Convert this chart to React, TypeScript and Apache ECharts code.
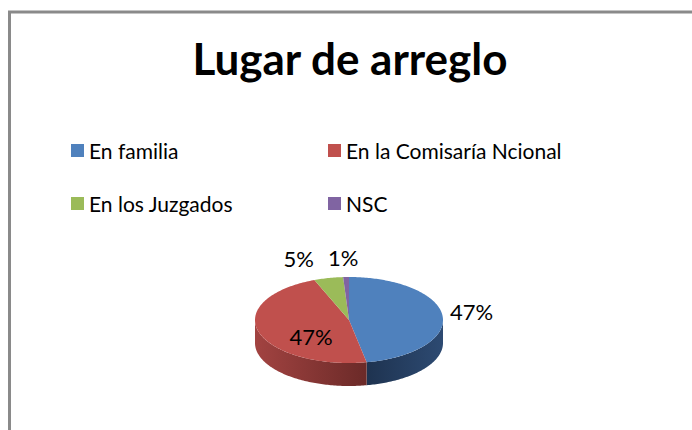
import React, { useEffect, useRef } from "react";
import * as echarts from "echarts";

const title = "Lugar de arreglo";
const categories = ["En familia", "En la Comisaría Ncional", "En los Juzgados", "NSC"];
const values = [47, 47, 5, 1];
const topColors = ["#4f81bd", "#c0504d", "#9bbb59", "#8064a2"];
const sideColorsA = ["#1e3350", "#a24341", "#6f8840", "#5c4876"];
const sideColorsB = ["#2d4a72", "#6b2a28", "#56692f", "#473859"];
const labelInside = [false, true, false, false];

const FONT = "Lato";

export default function App() {
  const ref = useRef<HTMLDivElement>(null);
  useEffect(() => {
    if (!ref.current) return;
    const chart = echarts.init(ref.current, null, { renderer: "svg" });
    const total = values.reduce((s, v) => s + v, 0);
    const starts: number[] = [];
    let acc = 0;
    values.forEach((v) => {
      starts.push(acc);
      acc += v;
    });

    const cx = 349;
    const cy = 320;
    const rx = 94;
    const ry = 43;
    const depth = 23;
    const labelFont = 22;

    const pt = (a: number, dy = 0) => [cx + rx * Math.sin(a), cy - ry * Math.cos(a) + dy];

    const arc = (a0: number, a1: number, dy = 0) => {
      const pts: number[][] = [];
      const n = Math.max(2, Math.ceil(((a1 - a0) / (2 * Math.PI)) * 360));
      for (let k = 0; k <= n; k++) {
        pts.push(pt(a0 + ((a1 - a0) * k) / n, dy));
      }
      return pts;
    };

    const labels = values.map((v, i) => {
      const a0 = (starts[i] / total) * Math.PI * 2;
      const a1 = ((starts[i] + v) / total) * Math.PI * 2;
      const am = (a0 + a1) / 2;
      const text = Math.round((v / total) * 100) + "%";
      const w = ((text.length - 1) * 0.58 + 0.85) * labelFont;
      let x: number;
      let y: number;
      if (labelInside[i]) {
        x = cx + 0.42 * rx * Math.sin(am);
        y = cy - 0.42 * ry * Math.cos(am) + depth / 2;
      } else {
        const sn = Math.sin(am);
        const k = Math.max(-1, Math.min(1, sn / 0.2));
        x = cx + (rx + 5) * sn + (w / 2 + 2) * k;
        y = cy - 3 - (ry + 17) * Math.cos(am);
      }
      return { text, x, y, w, inside: labelInside[i] };
    });
    const outs = labels.filter((l) => !l.inside).sort((p, q) => q.x - p.x);
    for (let j = 1; j < outs.length; j++) {
      const r = outs[j - 1];
      const l = outs[j];
      if (Math.abs(r.y - l.y) < labelFont) {
        const need = r.w / 2 + l.w / 2 + 13;
        if (r.x - l.x < need) l.x = r.x - need;
      }
    }

    const series = categories.map((name, i) => ({
      type: "custom",
      name,
      coordinateSystem: "none",
      itemStyle: { color: topColors[i] },
      data: [[starts[i], values[i]]],
      silent: true,
      renderItem: (params: any, api: any) => {
        const s = api.value(0) as number;
        const v = api.value(1) as number;
        const a0 = (s / total) * Math.PI * 2;
        const a1 = ((s + v) / total) * Math.PI * 2;
        const children: any[] = [];
        const f0 = Math.max(a0, Math.PI / 2);
        const f1 = Math.min(a1, (Math.PI * 3) / 2);
        if (f1 > f0) {
          const top = arc(f0, f1, 0);
          const bot = arc(f0, f1, depth).reverse();
          const xs = top.map((p) => p[0]);
          const minX = Math.min(...xs);
          const maxX = Math.max(...xs);
          children.push({
            type: "polygon",
            shape: { points: top.concat(bot) },
            style: {
              fill: new echarts.graphic.LinearGradient(
                minX,
                0,
                maxX,
                0,
                [
                  { offset: 0, color: sideColorsA[i] },
                  { offset: 1, color: sideColorsB[i] },
                ],
                true
              ),
            },
          });
        }
        children.push({
          type: "polygon",
          shape: { points: [[cx, cy]].concat(arc(a0, a1, 0)) },
          style: { fill: topColors[i] },
        });
        const lb = labels[i];
        children.push({
          type: "text",
          x: lb.x,
          y: lb.y,
          z2: 100,
          style: {
            text: lb.text,
            fill: "#000",
            fontSize: labelFont,
            fontFamily: FONT,
            align: "center",
            verticalAlign: "middle",
          },
        });
        return { type: "group", children };
      },
    }));

    const legendBase = {
      orient: "vertical",
      icon: "rect",
      itemWidth: 13,
      itemHeight: 13,
      itemGap: 32,
      padding: 0,
      selectedMode: false,
      textStyle: { fontSize: 21, lineHeight: 20, fontFamily: FONT, color: "#000" },
      top: 140,
    };

    chart.setOption({
      animation: false,
      backgroundColor: "#ffffff",
      title: {
        text: title,
        left: 350,
        top: 36,
        textAlign: "center",
        padding: 0,
        textStyle: { fontSize: 44, fontWeight: "bold", fontFamily: FONT, color: "#000" },
      },
      legend: [
        { ...legendBase, left: 71, data: [categories[0], categories[2]] },
        { ...legendBase, left: 328, data: [categories[1], categories[3]] },
      ],
      graphic: [
        {
          type: "rect",
          shape: { x: 9.5, y: 12, width: 720, height: 460 },
          style: { fill: "none", stroke: "#8a8a8a", lineWidth: 3 },
          silent: true,
        },
      ],
      series,
    });
    return () => chart.dispose();
  }, []);
  return (
    <div
      ref={ref}
      style={{ width: 692, height: 430, position: "absolute", left: 0, top: 0 }}
    />
  );
}
